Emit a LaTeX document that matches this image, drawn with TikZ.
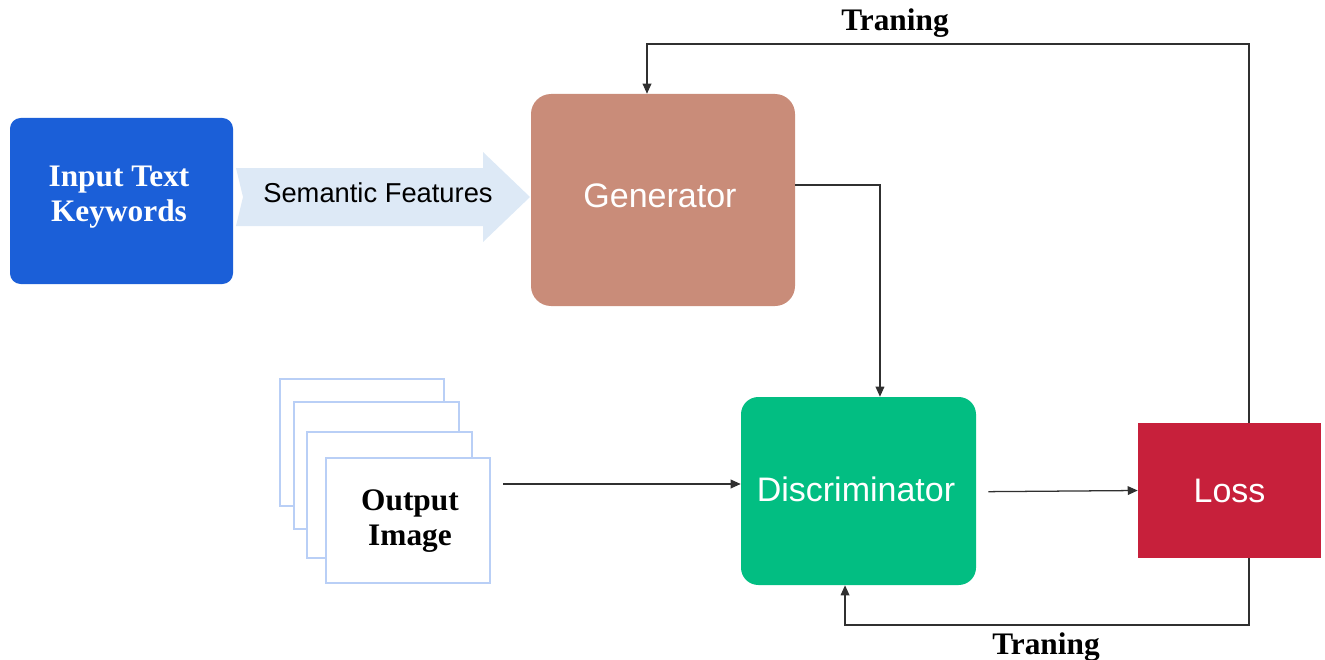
\documentclass[tikz,border=0pt]{standalone}
\usepackage{fontspec}
\setmainfont{Liberation Serif}
\setsansfont{Liberation Sans}
\usetikzlibrary{arrows.meta}
\definecolor{inblue}{HTML}{1B5FD8}
\definecolor{genbrown}{HTML}{C98C79}
\definecolor{disgreen}{HTML}{02BE82}
\definecolor{lossred}{HTML}{C7203B}
\definecolor{featblue}{HTML}{DDE9F6}
\definecolor{stackblue}{HTML}{B9CFF6}
\definecolor{wire}{HTML}{303030}
\tikzset{
  block/.style={inner sep=0pt, align=center, text=white},
  sanslabel/.style={font=\sffamily\fontsize{25.5}{30}\selectfont},
  seriflabel/.style={font=\bfseries\fontsize{23.5}{26}\selectfont},
  sheet/.style={draw=stackblue, line width=1.3pt, fill=white, inner sep=0pt},
  wire/.style={draw=wire, line width=0.95pt},
  flow/.style={wire, -{Triangle[length=7.5pt,width=6.5pt]}},
}
\begin{document}
\begin{tikzpicture}[x=0.75pt, y=-0.75pt]
\useasboundingbox (0,0) rectangle (1325,660);

% input text block
\node[block, fill=inblue, rounded corners=8pt,
      minimum width=167.25pt, minimum height=124.5pt] (input) at (121.5,201) {};
\node[seriflabel, text=white, align=center] (inputtext) at (119,197) {Input Text\\Keywords};

% broad arrow carrying the semantic features
\fill[featblue] (236,168) -- (483,168) -- (483,152) -- (530,197) -- (483,242)
  -- (483,226) -- (236,226) -- (243,197) -- cycle;
\node[font=\sffamily\fontsize{20.5}{24}\selectfont] (feat) at (378,193) {Semantic Features};

% generator
\node[block, fill=genbrown, rounded corners=15pt,
      minimum width=198pt, minimum height=159pt] (gen) at (663,200) {};
\node[sanslabel, text=white] (gentext) at (660,196) {Generator};

% discriminator
\node[block, sanslabel, fill=disgreen, rounded corners=13pt,
      minimum width=176.25pt, minimum height=141pt] (disc) at (858.5,491) {};
\node[sanslabel, text=white] (disctext) at (856,489) {Discriminator};

% loss
\node[block, sanslabel, fill=lossred,
      minimum width=137.25pt, minimum height=101.25pt] (loss) at (1229.5,490.5) {Loss};

% stack of output images
\node[sheet, minimum width=123pt, minimum height=95.25pt] (s1) at (362,442.5) {};
\node[sheet, minimum width=123.75pt, minimum height=95.25pt] (s2) at (376.5,465.5) {};
\node[sheet, minimum width=123.75pt, minimum height=94.5pt] (s3) at (389.5,495) {};
\node[sheet, minimum width=123pt, minimum height=93.75pt] (s4) at (408,520.5) {};
\node[seriflabel, align=center] (outtext) at (410,521) {Output\\Image};

% connectors
\coordinate (outtail) at (503,484);
\draw[flow] (outtail) -- (outtail -| disc.west);
\draw[flow] ([yshift=11.25pt]gen.east) -| ([xshift=16.1pt]disc.north);
\draw[flow] ([xshift=9pt,yshift=-0.5pt]disc.east) -- (loss.west);

% training feedback to the generator
\coordinate (lt) at ([xshift=14.6pt]loss.north);
\coordinate (topy) at (0,44);
\draw[flow] (lt) -- (lt |- topy) -| ([xshift=-12pt]gen.north);
\node[seriflabel] (train1) at (895,23) {Traning};

% training feedback to the discriminator
\coordinate (lb) at ([xshift=14.6pt]loss.south);
\coordinate (boty) at (0,625);
\draw[flow] (lb) -- (lb |- boty) -| ([xshift=-10.1pt]disc.south);
\node[seriflabel] (train2) at (1046,647) {Traning};
\end{tikzpicture}
\end{document}
